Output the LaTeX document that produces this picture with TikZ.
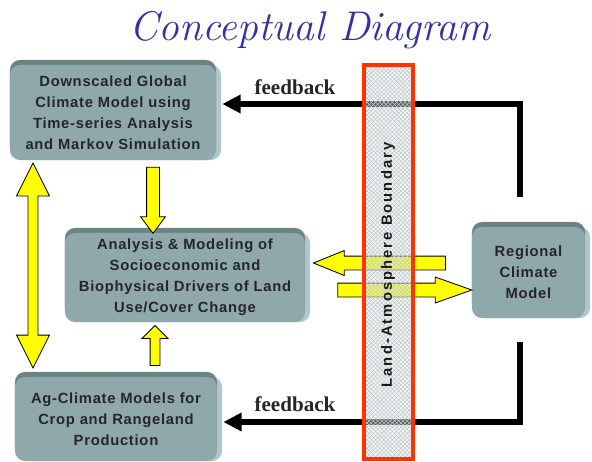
\documentclass[tikz,border=0pt]{standalone}
\usepackage{fontspec}
\setsansfont{Liberation Sans}
\newfontfamily\fbfont{Liberation Serif}
\usetikzlibrary{arrows.meta,shapes.arrows,shadows,patterns,calc}

\definecolor{titleblue}{RGB}{51,51,160}
\definecolor{boxface}{RGB}{142,168,171}
\definecolor{boxtop}{RGB}{108,131,132}
\definecolor{boxside}{RGB}{174,200,204}
\definecolor{bndred}{RGB}{255,51,0}
\definecolor{bndfill}{RGB}{214,238,240}
\definecolor{fatyellow}{RGB}{255,255,0}

\tikzset{
  module/.style={rectangle, rounded corners=0.25cm, fill=boxface,
    general shadow={fill=boxside, shadow xshift=0.125cm},
    general shadow={fill=boxtop, shadow yshift=0.125cm},
    font=\sffamily\bfseries\fontsize{10.5}{15}\selectfont\addfontfeature{LetterSpace=5},
    text=black!85, align=center, inner sep=0pt},
  fatbody/.style={draw=black, line width=0.6pt, fill=fatyellow, inner xsep=0pt},
  feedback/.style={line width=4.3pt, -{Triangle[length=13pt,width=12.5pt]}},
  fblabel/.style={font=\fbfont\bfseries\fontsize{15}{15}\selectfont, text=black!85},
  boundary/.style={rectangle, draw=bndred, line width=2.6pt,
    preaction={fill=bndfill, fill opacity=0.4},
    pattern=crosshatch, pattern color=black!22,
    minimum width=1.225cm, minimum height=9.85cm}
}

\begin{document}
\begin{tikzpicture}[x=0.025cm, y=-0.025cm]
    \useasboundingbox (0,0) rectangle (592,461);

    % Title
    \node[font=\itshape\fontsize{29.5}{30}\selectfont, text=titleblue] (title) at (310,30) {Conceptual Diagram};

    % Modules
    \node[module, minimum width=5.15cm, minimum height=2.375cm] (dsgcm) at (113,112.5)
        {Downscaled Global\\Climate Model using\\Time-series Analysis\\and Markov Simulation};
    \node[module, minimum width=6cm, minimum height=2.225cm] (drivers) at (185,277.5)
        {Analysis \& Modeling of\\Socioeconomic and\\Biophysical Drivers of Land\\Use/Cover Change};
    \node[module, minimum width=5.05cm, minimum height=2.1cm] (agcm) at (116,419)
        {Ag-Climate Models for\\Crop and Rangeland\\Production};
    \node[module, minimum width=2.825cm, minimum height=2.275cm] (rcm) at (528.5,272.5)
        {Regional\\Climate\\Model};

    % Yellow arrows
    \node[fatbody, double arrow, rotate=90, minimum height=5.125cm, inner ysep=0.1125cm,
        double arrow head extend=0.2875cm, double arrow tip angle=53] (dsgcm-agcm) at (33,265.5) {};
    \node[fatbody, single arrow, rotate=-90, minimum height=1.65cm, inner ysep=0.15cm,
        single arrow head extend=0.15cm, single arrow tip angle=74] (dsgcm-drivers) at (153,196) {};
    \node[fatbody, single arrow, rotate=90, minimum height=1cm, inner ysep=0.1125cm,
        single arrow head extend=0.2cm, single arrow tip angle=90] (agcm-drivers) at (155,348) {};
    \node[fatbody, single arrow, rotate=180, minimum height=3.3cm, inner ysep=0.1625cm,
        single arrow head extend=0.1375cm, single arrow tip angle=44] (rcm-drivers) at (388,263) {};
    \node[fatbody, single arrow, minimum height=3.35cm, inner ysep=0.1625cm,
        single arrow head extend=0.15cm, single arrow tip angle=39] (drivers-rcm) at (395,290) {};

    % Feedback
    \coordinate (rcmup) at (520,197);
    \coordinate (rcmdown) at (520,342);
    \draw[feedback] (rcmup) |- ($(dsgcm.east)+(6,-8.5)$);
    \draw[feedback] (rcmdown) |- ($(agcm.east)+(6,3)$);
    \node[fblabel] (fbup) at (295,87) {feedback};
    \node[fblabel] (fbdown) at (295,404) {feedback};

    % Land-atmosphere boundary
    \node[boundary] (bnd) at (388.5,262) {};
    \node[rotate=90, font=\sffamily\bfseries\fontsize{10.5}{12}\selectfont\addfontfeature{LetterSpace=14},
        text=black!90] (bndlabel) at (388,265) {Land-Atmosphere Boundary};
\end{tikzpicture}
\end{document}
